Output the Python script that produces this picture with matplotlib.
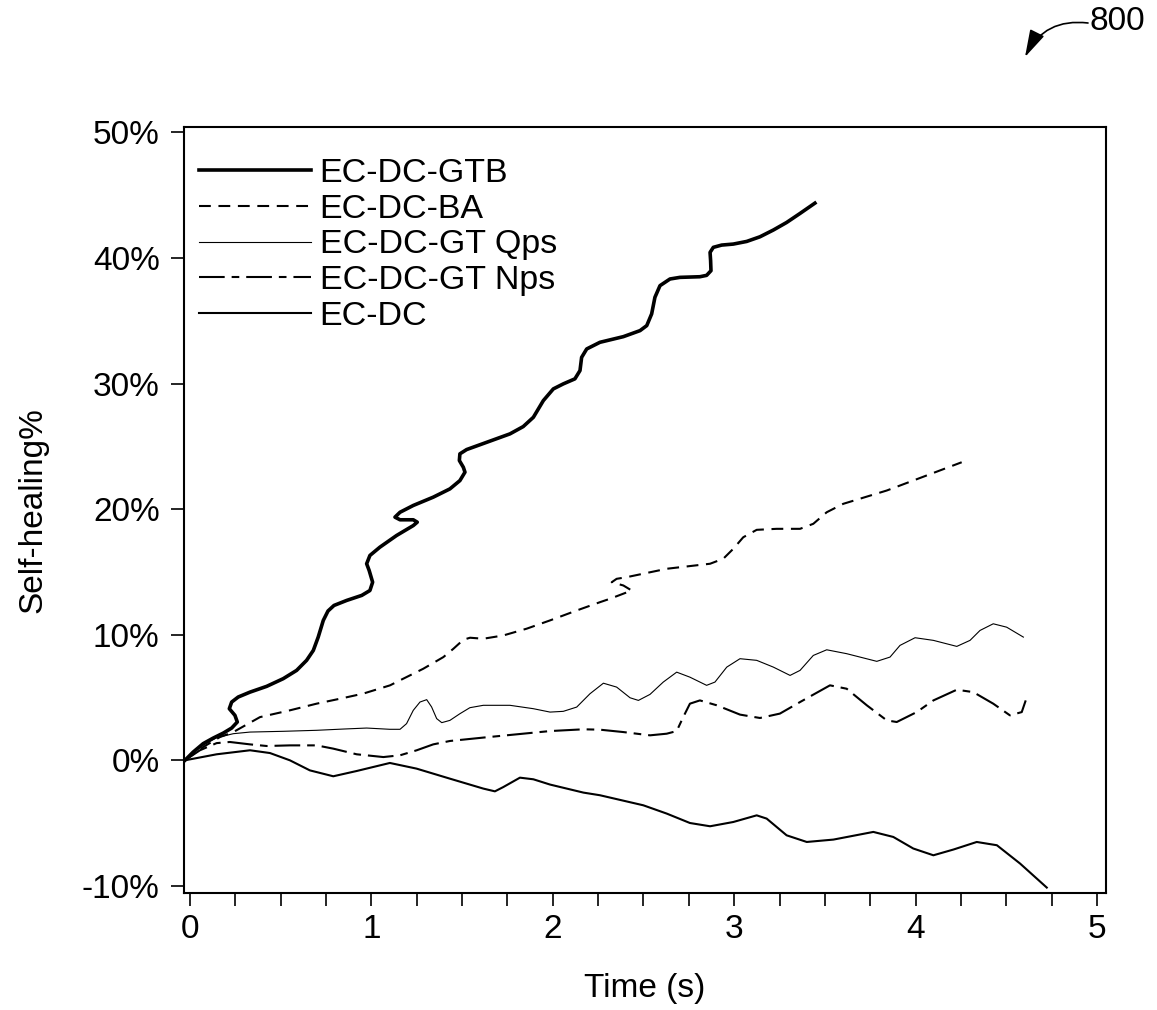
# Self-healing % over time for five coatings (patent style figure 800)

import matplotlib
matplotlib.use('Agg')
import matplotlib.pyplot as plt
from matplotlib.ticker import MultipleLocator, FuncFormatter

plt.rcParams['font.family'] = ['Liberation Sans', 'DejaVu Sans']
plt.rcParams['lines.scale_dashes'] = False

# data (time in s, self-healing in %)
gtb_t = [-0.028, 0.018, 0.073, 0.128, 0.184, 0.230, 0.261, 0.248, 0.217, 0.230, 0.266, 0.331,
         0.423, 0.514, 0.588, 0.643, 0.680, 0.707, 0.735, 0.761, 0.794, 0.864, 0.947, 0.992,
         1.007, 0.988, 0.974, 0.992, 1.047, 1.139, 1.231, 1.253, 1.231, 1.158, 1.130, 1.158,
         1.231, 1.341, 1.433, 1.488, 1.516, 1.507, 1.485, 1.488, 1.525, 1.636, 1.764, 1.837,
         1.893, 1.948, 2.003, 2.058, 2.122, 2.150, 2.159, 2.187, 2.260, 2.389, 2.481, 2.518,
         2.545, 2.563, 2.591, 2.646, 2.701, 2.811, 2.848, 2.872, 2.870, 2.867, 2.885, 2.931,
         2.995, 3.069, 3.142, 3.216, 3.289, 3.363, 3.445]
gtb_v = [0, 0.66, 1.33, 1.77, 2.17, 2.57, 3.05, 3.58, 4.11, 4.64, 5.04, 5.43,
         5.89, 6.50, 7.16, 7.96, 8.75, 9.81, 11.14, 11.89, 12.33, 12.73, 13.13, 13.52,
         14.18, 15.11, 15.65, 16.31, 16.97, 17.90, 18.69, 18.96, 19.15, 19.15, 19.36, 19.75,
         20.29, 20.95, 21.61, 22.27, 22.94, 23.33, 23.87, 24.40, 24.74, 25.32, 25.99, 26.57,
         27.31, 28.64, 29.57, 29.97, 30.37, 31.03, 32.08, 32.75, 33.28, 33.73, 34.21, 34.61,
         35.54, 36.86, 37.79, 38.32, 38.45, 38.50, 38.61, 38.98, 39.78, 40.44, 40.84, 41.02,
         41.10, 41.31, 41.68, 42.22, 42.82, 43.54, 44.36]

ba_t = [-0.028, 0.073, 0.165, 0.239, 0.386, 0.551, 0.698, 0.845, 0.955, 1.103, 1.176, 1.286,
        1.397, 1.452, 1.507, 1.544, 1.617, 1.727, 1.856, 1.985, 2.132, 2.260, 2.315, 2.435,
        2.389, 2.325, 2.352, 2.407, 2.628, 2.867, 2.940, 2.995, 3.050, 3.124, 3.234, 3.363,
        3.436, 3.510, 3.601, 3.841, 4.254]
ba_v = [0, 1.06, 1.85, 2.25, 3.44, 3.98, 4.51, 4.96, 5.31, 5.97, 6.50, 7.29,
        8.22, 8.88, 9.60, 9.76, 9.68, 9.94, 10.48, 11.14, 11.93, 12.59, 12.86, 13.52,
        13.92, 14.18, 14.45, 14.58, 15.25, 15.65, 16.05, 16.84, 17.76, 18.35, 18.43, 18.43,
        18.83, 19.75, 20.42, 21.48, 23.73]

qps_t = [-0.028, 0.055, 0.147, 0.239, 0.331, 0.514, 0.698, 0.845, 0.974, 1.102, 1.158, 1.194,
         1.231, 1.268, 1.305, 1.332, 1.360, 1.388, 1.433, 1.488, 1.543, 1.617, 1.764, 1.893,
         1.985, 2.058, 2.132, 2.205, 2.279, 2.352, 2.426, 2.472, 2.536, 2.609, 2.683, 2.756,
         2.848, 2.894, 2.959, 3.032, 3.124, 3.216, 3.308, 3.363, 3.436, 3.510, 3.620, 3.786,
         3.859, 3.914, 3.997, 4.098, 4.227, 4.300, 4.355, 4.428, 4.502, 4.594]
qps_v = [0, 1.06, 1.80, 2.12, 2.25, 2.31, 2.39, 2.49, 2.57, 2.47, 2.47, 2.92,
         3.98, 4.64, 4.83, 4.25, 3.32, 3.00, 3.18, 3.71, 4.19, 4.38, 4.38, 4.11,
         3.84, 3.90, 4.24, 5.30, 6.14, 5.83, 4.98, 4.77, 5.25, 6.23, 7.02, 6.62,
         5.97, 6.23, 7.42, 8.09, 7.96, 7.42, 6.76, 7.16, 8.35, 8.80, 8.49, 7.88,
         8.22, 9.15, 9.76, 9.55, 9.07, 9.55, 10.34, 10.87, 10.60, 9.81]

nps_t = [-0.028, 0.055, 0.147, 0.220, 0.331, 0.423, 0.551, 0.698, 0.790, 0.919, 1.066, 1.158,
         1.250, 1.341, 1.433, 1.617, 1.801, 1.985, 2.169, 2.260, 2.389, 2.536, 2.628, 2.683,
         2.719, 2.756, 2.811, 2.904, 3.032, 3.142, 3.252, 3.363, 3.528, 3.620, 3.731, 3.841,
         3.896, 4.006, 4.098, 4.227, 4.318, 4.428, 4.520, 4.585, 4.607]
nps_v = [0, 0.80, 1.37, 1.46, 1.27, 1.14, 1.19, 1.19, 0.93, 0.48, 0.26, 0.40,
         0.80, 1.27, 1.54, 1.81, 2.07, 2.33, 2.47, 2.44, 2.25, 1.99, 2.12, 2.33,
         3.44, 4.51, 4.77, 4.38, 3.64, 3.37, 3.72, 4.64, 5.97, 5.70, 4.38, 3.18,
         3.05, 3.84, 4.77, 5.62, 5.43, 4.51, 3.58, 3.84, 4.77]

ecdc_t = [-0.028, 0.147, 0.331, 0.441, 0.551, 0.661, 0.790, 0.919, 1.102, 1.249, 1.433, 1.617,
          1.681, 1.727, 1.819, 1.893, 1.985, 2.169, 2.260, 2.499, 2.628, 2.756, 2.867, 2.995,
          3.124, 3.179, 3.289, 3.400, 3.547, 3.767, 3.877, 3.987, 4.098, 4.209, 4.337, 4.448,
          4.576, 4.723]
ecdc_v = [0, 0.48, 0.80, 0.58, 0, -0.80, -1.27, -0.85, -0.21, -0.66, -1.46, -2.25,
          -2.47, -2.13, -1.38, -1.51, -1.93, -2.57, -2.78, -3.58, -4.24, -4.99, -5.25, -4.91,
          -4.38, -4.64, -5.97, -6.50, -6.31, -5.70, -6.10, -7.02, -7.56, -7.10, -6.50, -6.76,
          -8.22, -10.13]

labels = ['EC-DC-GTB', 'EC-DC-BA', 'EC-DC-GT Qps', 'EC-DC-GT Nps', 'EC-DC']

fig = plt.figure(figsize=(11.57, 10.10), dpi=100)
ax = fig.add_axes([0.159, 0.116, 0.797, 0.758])

ax.plot(gtb_t, gtb_v, color='black', lw=2.6, solid_joinstyle='round', label=labels[0])
ax.plot(ba_t, ba_v, color='black', lw=1.5, dashes=(8.5, 5.5), label=labels[1])
ax.plot(qps_t, qps_v, color='black', lw=0.8, solid_joinstyle='round', label=labels[2])
ax.plot(nps_t, nps_v, color='black', lw=1.5, dashes=(18.5, 5, 5.5, 5), label=labels[3])
ax.plot(ecdc_t, ecdc_v, color='black', lw=1.5, solid_joinstyle='round', label=labels[4])

ax.set_xlim(-0.033, 5.05)
ax.set_ylim(-10.55, 50.4)

# ticks: integers labelled, quarter seconds unlabelled, all the same length
ax.xaxis.set_major_locator(MultipleLocator(1))
ax.xaxis.set_minor_locator(MultipleLocator(0.25))
ax.yaxis.set_major_locator(MultipleLocator(10))
ax.yaxis.set_major_formatter(FuncFormatter(lambda v, p: f'{v:.0f}%'))
ax.tick_params(axis='both', which='both', direction='out', length=9.5, width=1.2,
               labelsize=24)
ax.tick_params(axis='x', pad=6)
ax.tick_params(axis='y', pad=8)
for s in ax.spines.values():
    s.set_linewidth(1.5)

ax.set_xlabel('Time (s)', fontsize=24, labelpad=20)
ax.set_ylabel('Self-healing%', fontsize=24, labelpad=24)

ax.legend(loc='upper left', bbox_to_anchor=(0.016, 0.960), frameon=False,
          fontsize=24.5, handlelength=3.3, handletextpad=0.25, labelspacing=0.14,
          borderpad=0, borderaxespad=0)

# figure reference number with curved arrow
fig.text(1117 / 1157, 1 - 21 / 1010, '800', fontsize=24, ha='center', va='center')
ax.annotate('', xy=(1025, 1010 - 57), xycoords='figure pixels',
            xytext=(1088, 1010 - 23), textcoords='figure pixels',
            arrowprops=dict(arrowstyle='-|>,head_length=1.4,head_width=0.4',
                            color='black', lw=1.2, mutation_scale=12,
                            shrinkA=0, shrinkB=0,
                            connectionstyle='arc3,rad=0.35'))

plt.savefig('out.png', dpi=100)
